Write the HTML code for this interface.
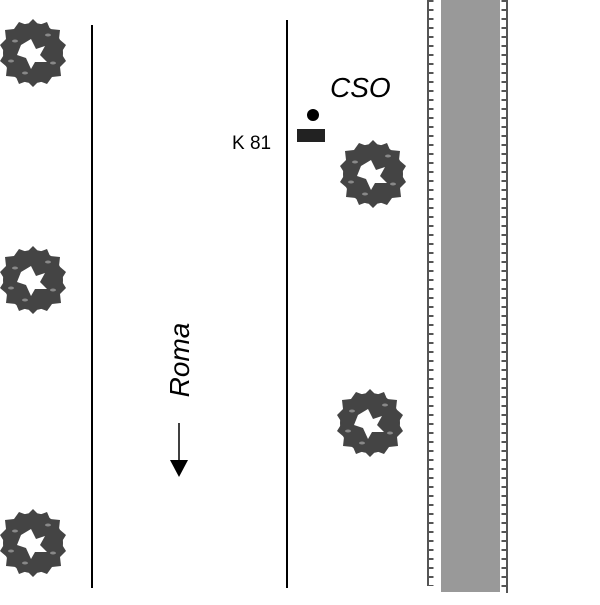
<!DOCTYPE html>
<html><head><style>body{margin:0;background:#fff}</style></head><body>
<svg width="600" height="600" xmlns="http://www.w3.org/2000/svg">
<defs>
<g id="tree">
<circle r="30" fill="#444"/>
<path d="M0-34 L6-28 L14-31 L17-24 L27-23 L26-14 L33-8 L28 0 L33 8 L27 14 L28 23 L19 24 L14 31 L6 28 L0 34 L-6 28 L-14 31 L-17 24 L-27 23 L-26 14 L-33 8 L-28 0 L-33-8 L-27-14 L-28-23 L-19-24 L-14-31 L-6-28Z" fill="#444"/>
<path d="M-12-8 L-2-14 L3-4 L12-7 L7 2 L14 9 L2 9 L-2 16 L-7 5 L-16 2Z" fill="#fff"/>
<g fill="#888"><ellipse cx="-18" cy="-12" rx="3" ry="1.5"/><ellipse cx="15" cy="-18" rx="3" ry="1.5"/><ellipse cx="20" cy="10" rx="3" ry="1.5"/><ellipse cx="-8" cy="20" rx="3" ry="1.5"/><ellipse cx="-22" cy="8" rx="3" ry="1.5"/></g>
</g>
</defs>
<rect x="441" y="0" width="59" height="592" fill="#999"/>
<line x1="428" y1="0" x2="428" y2="586" stroke="#555" stroke-width="2"/>
<line x1="431" y1="0" x2="431" y2="586" stroke="#555" stroke-width="5" stroke-dasharray="2 7"/>
<line x1="507" y1="0" x2="507" y2="593" stroke="#555" stroke-width="2"/>
<line x1="504" y1="0" x2="504" y2="593" stroke="#555" stroke-width="5" stroke-dasharray="2 7"/>
<line x1="92" y1="25" x2="92" y2="588" stroke="#000" stroke-width="2"/>
<line x1="287" y1="20" x2="287" y2="588" stroke="#000" stroke-width="2"/>
<use href="#tree" x="33" y="53"/>
<use href="#tree" x="33" y="280"/>
<use href="#tree" x="33" y="543"/>
<use href="#tree" x="373" y="174"/>
<use href="#tree" x="370" y="423"/>
<circle cx="313" cy="115" r="6" fill="#000"/>
<rect x="297" y="129" width="28" height="13" fill="#222"/>
<text x="232" y="149" font-family="Liberation Sans, sans-serif" font-size="19">K 81</text>
<text x="330" y="97" font-family="Liberation Sans, sans-serif" font-size="28" font-style="italic">CSO</text>
<text transform="translate(189,360) rotate(-90)" text-anchor="middle" font-family="Liberation Sans, sans-serif" font-size="28" font-style="italic">Roma</text>
<line x1="179" y1="423" x2="179" y2="462" stroke="#000" stroke-width="1.5"/>
<polygon points="170,460 188,460 179,477" fill="#000"/>
</svg>
</body></html>
